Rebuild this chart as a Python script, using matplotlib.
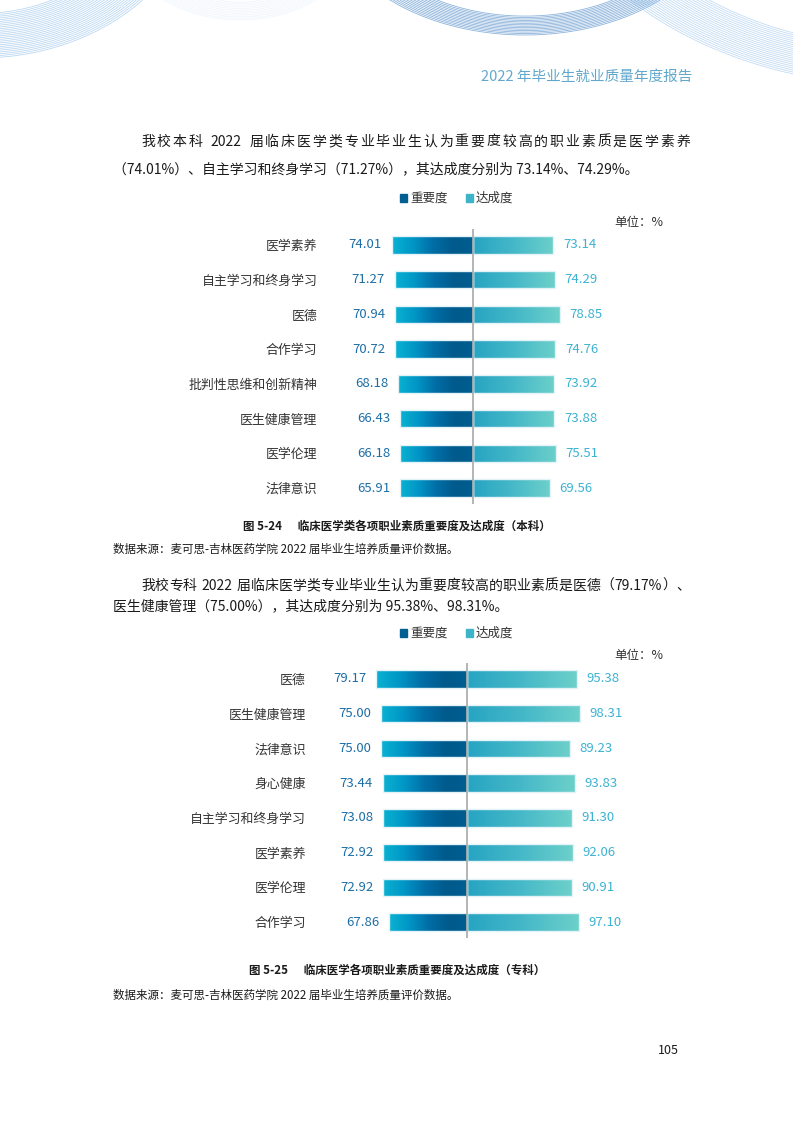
import numpy as np
import matplotlib
matplotlib.use('Agg')
import matplotlib.pyplot as plt
from matplotlib.colors import LinearSegmentedColormap
from matplotlib.patches import Rectangle

plt.rcParams['font.family'] = ['Noto Sans CJK SC', 'DejaVu Sans']

# chart 1 (本科)
cats1 = ['医学素养', '自主学习和终身学习', '医德', '合作学习', '批判性思维和创新精神',
         '医生健康管理', '医学伦理', '法律意识']
imp1 = [74.01, 71.27, 70.94, 70.72, 68.18, 66.43, 66.18, 65.91]
ach1 = [73.14, 74.29, 78.85, 74.76, 73.92, 73.88, 75.51, 69.56]

# chart 2 (专科)
cats2 = ['医德', '医生健康管理', '法律意识', '身心健康', '自主学习和终身学习',
         '医学素养', '医学伦理', '合作学习']
imp2 = [79.17, 75.00, 75.00, 73.44, 73.08, 72.92, 72.92, 67.86]
ach2 = [95.38, 98.31, 89.23, 93.83, 91.30, 92.06, 90.91, 97.10]

legend_labels = ['重要度', '达成度']

W, H = 793, 1122
fig = plt.figure(figsize=(W / 100, H / 100), dpi=100)
bg = fig.add_axes([0, 0, 1, 1])
bg.set_xlim(0, W)
bg.set_ylim(H, 0)
bg.axis('off')

cmap_l = LinearSegmentedColormap.from_list('l', ['#0ab2d2', '#0096c6', '#006ea6', '#005a8c', '#005e90'])
cmap_r = LinearSegmentedColormap.from_list('r', ['#27a4c2', '#45b8c8', '#6dd0ca'])
grad = np.linspace(0, 1, 256).reshape(1, -1)


# decorative header arcs
def arc_family(cx, cy, rx, ry, scales, color, alpha):
    t = np.linspace(0, 2 * np.pi, 800)
    for s in scales:
        x = cx + rx * s * np.cos(t)
        y = cy + ry * s * np.sin(t)
        m = y >= -2
        x = np.where(m, x, np.nan)
        bg.plot(x, y, color=color, lw=0.6, alpha=alpha)


arc_family(-20, -120, 220, 178, np.linspace(0.75, 1.0, 26), '#8fbfea', 0.6)
arc_family(240, -70, 120, 90, np.linspace(0.8, 1.0, 12), '#d6e7f7', 0.35)
arc_family(525, -100, 201, 135, np.linspace(0.86, 1.0, 14), '#5b93cc', 0.7)
arc_family(900, -200, 371, 280, np.linspace(0.88, 1.02, 22), '#9cc4ec', 0.6)

bg.text(692, 77, '2022 年毕业生就业质量年度报告', ha='right', va='center',
        fontsize=10.5, color='#62a8cc')

fig.canvas.draw()
renderer = fig.canvas.get_renderer()


def tokens(s):
    out, buf = [], ''
    for ch in s:
        if ord(ch) < 128 and ch != ' ':
            buf += ch
        else:
            if buf:
                out.append(buf)
                buf = ''
            out.append(ch)
    if buf:
        out.append(buf)
    return out


def justify(s, x0, x1, y, size):
    toks = tokens(s)
    objs = [bg.text(0, y + 4.5, t, fontsize=size, va='baseline', color='#1a1a1a') for t in toks]
    widths = [o.get_window_extent(renderer).width if t != ' ' else 4.0 for o, t in zip(objs, toks)]
    gap = (x1 - x0 - sum(widths)) / (len(toks) - 1)
    x = x0
    for o, w in zip(objs, widths):
        o.set_x(x)
        x += w + gap


body = 10
justify('我校本科 2022 届临床医学类专业毕业生认为重要度较高的职业素质是医学素养', 141, 690, 141, body)
bg.text(113, 169, '（74.01%）、自主学习和终身学习（71.27%），其达成度分别为 73.14%、74.29%。',
        fontsize=body, va='center', color='#1a1a1a')
justify('我校专科 2022 届临床医学类专业毕业生认为重要度较高的职业素质是医德（79.17%）、', 141, 690, 585, body)
bg.text(113, 606, '医生健康管理（75.00%），其达成度分别为 95.38%、98.31%。',
        fontsize=body, va='center', color='#1a1a1a')

bg.text(397, 526, '图 5-24      临床医学类各项职业素质重要度及达成度（本科）', ha='center', va='center',
        fontsize=8.3, fontweight='bold', color='#1a1a1a')
bg.text(113, 549, '数据来源：麦可思-吉林医药学院 2022 届毕业生培养质量评价数据。', va='center',
        fontsize=8.3, color='#1a1a1a')
bg.text(397, 970, '图 5-25      临床医学各项职业素质重要度及达成度（专科）', ha='center', va='center',
        fontsize=8.3, fontweight='bold', color='#1a1a1a')
bg.text(113, 995, '数据来源：麦可思-吉林医药学院 2022 届毕业生培养质量评价数据。', va='center',
        fontsize=8.3, color='#1a1a1a')
bg.text(668, 1051, '105', ha='center', va='center', fontsize=9, color='#1a1a1a')


def legend(x, y):
    bg.add_patch(Rectangle((x, y - 4), 7, 8, color='#005e90'))
    bg.text(x + 10, y, legend_labels[0], va='center', fontsize=9, color='#333333')
    bg.add_patch(Rectangle((x + 66, y - 4), 7, 8, color='#3fb4c8'))
    bg.text(x + 76, y, legend_labels[1], va='center', fontsize=9, color='#333333')


def chart(cx, scale, top, cats, imp, ach, unit_y):
    lim = 110
    left = cx - lim * scale
    width = 2 * lim * scale
    height = 275
    ax = fig.add_axes([left / W, 1 - (top + height) / H, width / W, height / H])
    y = np.arange(len(cats))
    lb = ax.barh(y, [-v for v in imp], height=0.5, facecolor='none', edgecolor='#e4f3f7', lw=1.0, zorder=3)
    rb = ax.barh(y, ach, height=0.5, facecolor='none', edgecolor='#e4f3f7', lw=1.0, zorder=3)
    for bars, cm in ((lb, cmap_l), (rb, cmap_r)):
        for b in bars:
            x0 = min(b.get_x(), b.get_x() + b.get_width())
            x1 = max(b.get_x(), b.get_x() + b.get_width())
            y0, y1 = b.get_y(), b.get_y() + b.get_height()
            im = ax.imshow(grad, cmap=cm, aspect='auto', extent=(x0, x1, y1, y0), zorder=2)
            im.set_clip_path(b)
    for i, (a, b) in enumerate(zip(imp, ach)):
        ax.annotate(f'{a:.2f}', xy=(-a, i), xytext=(-7, 0), textcoords='offset points',
                    ha='right', va='center', fontsize=9.5, color='#1d6ea6')
        ax.annotate(f'{b:.2f}', xy=(b, i), xytext=(7, 0), textcoords='offset points',
                    ha='left', va='center', fontsize=9.5, color='#3cb2d2')
    ax.axvline(0, color='#a8a8a8', lw=1.2, zorder=4)
    ax.set_xlim(-lim, lim)
    ax.set_ylim(len(cats) - 0.54, -0.46)
    ax.set_yticks(y)
    ax.set_yticklabels(cats, fontsize=9.3, color='#333333')
    ax.tick_params(axis='y', length=0, pad=25)
    ax.set_xticks([])
    for s in ax.spines.values():
        s.set_visible(False)
    ax.patch.set_alpha(0)
    bg.text(663, unit_y, '单位：%', ha='right', va='center', fontsize=9, color='#333333')


legend(400, 198)
chart(473, 1.1, 229, cats1, imp1, ach1, 222)
legend(400, 633)
chart(467, 1.15, 663, cats2, imp2, ach2, 655)

fig.savefig('out.png', dpi=100)
